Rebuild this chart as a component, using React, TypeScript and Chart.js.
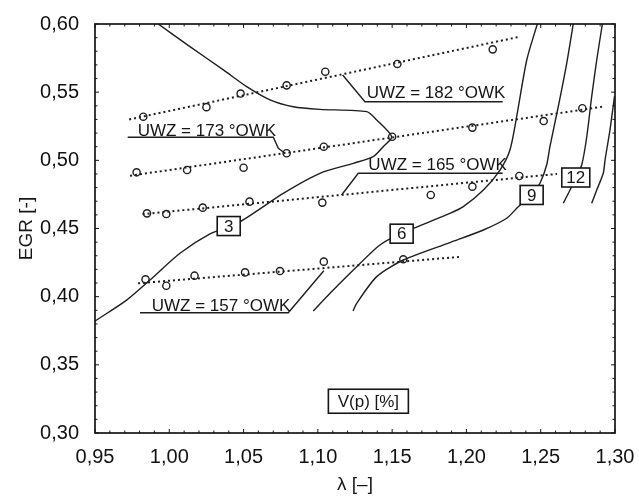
import React, { useEffect, useRef } from "react";
import { Chart, registerables } from "chart.js";

Chart.register(...registerables);

// ---- measured points (lambda, EGR) ----
const uwz157X = [0.984, 0.998, 1.017, 1.051, 1.0745, 1.104, 1.1575];
const uwz157Y = [0.4127, 0.408, 0.4154, 0.4178, 0.4188, 0.4257, 0.4274];
const uwz165X = [0.985, 0.998, 1.0225, 1.054, 1.103, 1.176, 1.204, 1.2356];
const uwz165Y = [0.4611, 0.4606, 0.4653, 0.4697, 0.469, 0.4746, 0.4807, 0.4885];
const uwz173X = [0.978, 1.012, 1.05, 1.079, 1.104, 1.15, 1.204, 1.252, 1.278];
const uwz173Y = [0.4912, 0.4929, 0.4946, 0.5052, 0.51, 0.5173, 0.524, 0.5288, 0.5382];
const uwz182X = [0.9825, 1.025, 1.048, 1.079, 1.105, 1.1535, 1.2177];
const uwz182Y = [0.532, 0.539, 0.549, 0.555, 0.565, 0.5707, 0.5814];

// ---- dotted trend lines (end points) ----
const fit157X = [0.979, 1.197];
const fit157Y = [0.4098, 0.4293];
const fit165X = [0.982, 1.261];
const fit165Y = [0.4605, 0.49];
const fit173X = [0.9736, 1.2917];
const fit173Y = [0.4887, 0.5393];
const fit182X = [0.973, 1.236];
const fit182Y = [0.53, 0.5907];

// ---- V(p) contour lines ----
const c3X = [0.9926, 1.0139, 1.0364, 1.0521, 1.0678, 1.0835, 1.1014, 1.1329, 1.1396, 1.1497, 1.144, 1.1373, 1.1239, 1.1014, 1.0767, 1.0476, 1.0274, 1.0072, 0.987, 0.9713, 0.9511, 0.95];
const c3Y = [0.6, 0.5834, 0.5663, 0.554, 0.5443, 0.5393, 0.5374, 0.5357, 0.5296, 0.5173, 0.51, 0.5027, 0.4978, 0.4905, 0.4758, 0.455, 0.446, 0.4318, 0.4122, 0.3975, 0.3829, 0.382];
const c6X = [1.2477, 1.2406, 1.2338, 1.2293, 1.2226, 1.2114, 1.1979, 1.1889, 1.1642, 1.1564, 1.1418, 1.1239, 1.1082, 1.0969];
const c6Y = [0.6, 0.5736, 0.532, 0.5076, 0.4929, 0.4782, 0.466, 0.4611, 0.4501, 0.4467, 0.4379, 0.4196, 0.4025, 0.3895];
const c9X = [1.2719, 1.2675, 1.2618, 1.2562, 1.254, 1.2495, 1.2439, 1.2349, 1.2271, 1.2114, 1.1889, 1.1575, 1.1396, 1.1261, 1.1237];
const c9Y = [0.6, 0.5712, 0.5393, 0.51, 0.4966, 0.4832, 0.4746, 0.466, 0.4575, 0.4489, 0.4397, 0.4269, 0.4147, 0.3951, 0.3895];
const c12X = [1.2915, 1.2877, 1.2843, 1.281, 1.2776, 1.2736, 1.2697, 1.2652];
const c12Y = [0.6, 0.5736, 0.5467, 0.5173, 0.4966, 0.4874, 0.4782, 0.4685];
const c15X = [1.2997, 1.2966, 1.2933, 1.2921, 1.2877, 1.2843];
const c15Y = [0.5472, 0.5222, 0.5002, 0.4905, 0.4782, 0.4685];

// ---- label leader lines ----
const lead182X = [1.1167, 1.1317, 1.2244];
const lead182Y = [0.5626, 0.543, 0.543];
const lead173X = [0.972, 1.07, 1.0734, 1.0779];
const lead173Y = [0.5169, 0.5169, 0.5088, 0.5052];
const lead165X = [1.116, 1.1272, 1.2244];
const lead165Y = [0.4746, 0.4905, 0.4905];
const lead157X = [0.9803, 1.0801, 1.104];
const lead157Y = [0.3882, 0.3882, 0.419];

// ---- texts ----
const seriesLabels = ["UWZ = 182 °OWK", "UWZ = 173 °OWK", "UWZ = 165 °OWK", "UWZ = 157 °OWK"];
const seriesLabelX = [1.1329, 0.9787, 1.134, 0.9882];
const seriesLabelY = [0.5457, 0.5178, 0.4929, 0.3895];
const contourLabels = ["3", "6", "9", "12"];
const contourLabelX = [1.04, 1.1564, 1.2439, 1.2736];
const contourLabelY = [0.4518, 0.4462, 0.4746, 0.4874];
const legendTitle = "V(p) [%]";
const legendX = 1.134;
const legendY = 0.3233;
const xTitle = "λ [–]";
const yTitle = "EGR [-]";

const xMin = 0.95, xMax = 1.3, yMin = 0.3, yMax = 0.6;

const zip = (xs: number[], ys: number[]) => xs.map((x, i) => ({ x, y: ys[i] }));
const fmt = (v: number) => v.toFixed(2).replace(".", ",");
const FONT = "'Liberation Sans', Arial, sans-serif";
const INK = "#161616";

const overlay = {
  id: "overlay",
  afterDatasetsDraw(chart: any) {
    const { ctx, chartArea: a, scales } = chart;
    const xs = scales.x, ys = scales.y;
    const px = (v: number) => xs.getPixelForValue(v);
    const py = (v: number) => ys.getPixelForValue(v);
    ctx.save();
    // frame
    ctx.strokeStyle = INK;
    ctx.lineWidth = 1.7;
    ctx.strokeRect(a.left, a.top, a.right - a.left, a.bottom - a.top);
    // minor ticks inward
    ctx.lineWidth = 1;
    ctx.beginPath();
    for (let i = 95; i <= 130; i++) {
      const x = px(i / 100);
      const len = i % 5 === 0 ? 4 : 2.5;
      ctx.moveTo(x, a.bottom); ctx.lineTo(x, a.bottom - len);
      ctx.moveTo(x, a.top); ctx.lineTo(x, a.top + len);
    }
    for (let i = 30; i <= 60; i++) {
      const y = py(i / 100);
      const len = i % 5 === 0 ? 4 : 2.5;
      ctx.moveTo(a.left, y); ctx.lineTo(a.left + len, y);
      ctx.moveTo(a.right, y); ctx.lineTo(a.right - len, y);
    }
    ctx.stroke();

    // series labels
    ctx.fillStyle = INK;
    ctx.font = `17px ${FONT}`;
    ctx.textAlign = "left";
    ctx.textBaseline = "alphabetic";
    seriesLabels.forEach((t, i) => {
      ctx.fillText(t, px(seriesLabelX[i]), py(seriesLabelY[i]));
    });

    // contour boxes
    ctx.font = `17px ${FONT}`;
    ctx.textAlign = "center";
    ctx.textBaseline = "middle";
    contourLabels.forEach((t, i) => {
      const cx = px(contourLabelX[i]);
      const cy = py(contourLabelY[i]);
      const w = t.length > 1 ? 28 : 23;
      const h = 19;
      ctx.fillStyle = "#ffffff";
      ctx.fillRect(cx - w / 2, cy - h / 2, w, h);
      ctx.lineWidth = 1.6;
      ctx.strokeStyle = INK;
      ctx.strokeRect(cx - w / 2, cy - h / 2, w, h);
      ctx.fillStyle = INK;
      ctx.fillText(t, cx, cy + 1);
    });

    // V(p) box
    {
      const cx = px(legendX), cy = py(legendY);
      const w = 80, h = 24;
      ctx.fillStyle = "#ffffff";
      ctx.fillRect(cx - w / 2, cy - h / 2, w, h);
      ctx.lineWidth = 1.6;
      ctx.strokeStyle = INK;
      ctx.strokeRect(cx - w / 2, cy - h / 2, w, h);
      ctx.fillStyle = INK;
      ctx.font = `17px ${FONT}`;
      ctx.fillText(legendTitle, cx, cy + 1);
    }

    // axis titles
    ctx.font = `19px ${FONT}`;
    ctx.fillStyle = INK;
    ctx.textAlign = "center";
    ctx.textBaseline = "middle";
    ctx.fillText(xTitle, (a.left + a.right) / 2, 485);
    ctx.save();
    ctx.translate(27, (a.top + a.bottom) / 2);
    ctx.rotate(-Math.PI / 2);
    ctx.fillText(yTitle, 0, 0);
    ctx.restore();

    ctx.restore();
  },
};

export default function App() {
  const ref = useRef<HTMLCanvasElement | null>(null);
  useEffect(() => {
    if (!ref.current) return;
    const pointDs = (xs: number[], ys: number[]) => ({
      data: zip(xs, ys),
      showLine: false,
      pointRadius: 3.6,
      pointBorderWidth: 1.4,
      pointBorderColor: "#1e1e1e",
      pointBackgroundColor: "rgba(255,255,255,0)",
    });
    const dotted = (xs: number[], ys: number[]) => ({
      data: zip(xs, ys),
      showLine: true,
      pointRadius: 0,
      borderColor: "#1e1e1e",
      borderWidth: 2,
      borderDash: [2, 3],
    });
    const solid = (xs: number[], ys: number[], tension = 0.25) => ({
      data: zip(xs, ys),
      showLine: true,
      pointRadius: 0,
      borderColor: "#1e1e1e",
      borderWidth: 1.4,
      tension,
    });
    const chart = new Chart(ref.current, {
      type: "scatter",
      data: {
        datasets: [
          pointDs(uwz157X, uwz157Y),
          pointDs(uwz165X, uwz165Y),
          pointDs(uwz173X, uwz173Y),
          pointDs(uwz182X, uwz182Y),
          dotted(fit157X, fit157Y),
          dotted(fit165X, fit165Y),
          dotted(fit173X, fit173Y),
          dotted(fit182X, fit182Y),
          solid(c3X, c3Y),
          solid(c6X, c6Y),
          solid(c9X, c9Y),
          solid(c12X, c12Y),
          solid(c15X, c15Y),
          solid(lead182X, lead182Y, 0),
          solid(lead173X, lead173Y, 0),
          solid(lead165X, lead165Y, 0),
          solid(lead157X, lead157Y, 0),
        ] as any,
      },
      options: {
        animation: false,
        responsive: true,
        maintainAspectRatio: false,
        layout: { padding: { top: 24, right: 24, left: 0, bottom: 0 } },
        plugins: { legend: { display: false }, tooltip: { enabled: false } },
        scales: {
          x: {
            type: "linear",
            min: xMin,
            max: xMax,
            grid: { display: false },
            border: { display: false },
            ticks: {
              stepSize: 0.05,
              autoSkip: false,
              maxRotation: 0,
              padding: 4,
              color: "#111",
              font: { family: FONT, size: 20 },
              callback: (v: any) => fmt(Number(v)),
            },
            afterFit: (s: any) => { s.height = 63; },
          },
          y: {
            type: "linear",
            min: yMin,
            max: yMax,
            grid: { display: false },
            border: { display: false },
            ticks: {
              stepSize: 0.05,
              autoSkip: false,
              padding: 8,
              color: "#111",
              font: { family: FONT, size: 20 },
              callback: (v: any) => fmt(Number(v)),
            },
            afterFit: (s: any) => { s.width = 95; },
          },
        },
      } as any,
      plugins: [overlay],
    });
    return () => chart.destroy();
  }, []);
  return (
    <div style={{ position: "fixed", left: 0, top: 0, width: 639, height: 496, background: "#fff" }}>
      <canvas ref={ref} />
    </div>
  );
}
